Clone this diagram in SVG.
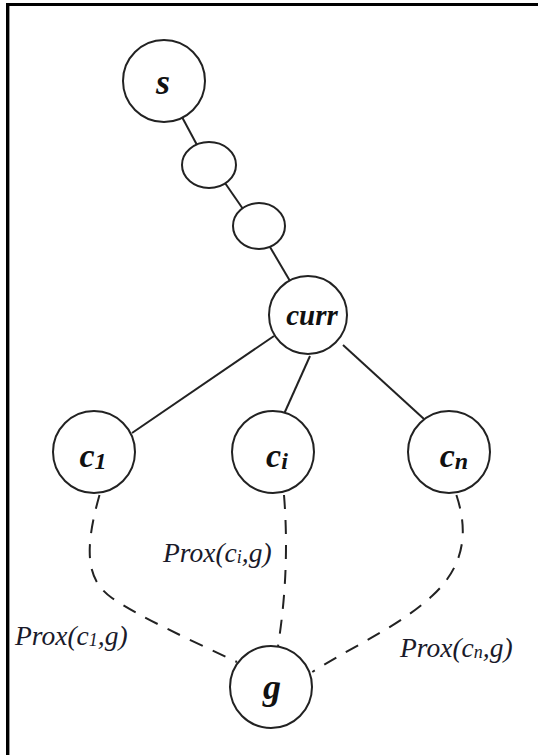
<svg xmlns="http://www.w3.org/2000/svg" width="538" height="755" viewBox="0 0 538 755">
<style>
.node{fill:#fff;stroke:#222;stroke-width:2}
.edge{stroke:#222;stroke-width:2;fill:none}
.dash{stroke:#222;stroke-width:2;fill:none;stroke-dasharray:14 11}
.lbl{font-style:italic;font-weight:bold;fill:#111}
.prox{font-style:italic;font-size:27.5px;fill:#1a1a2a}
</style>
<rect width="538" height="755" fill="#fff"/>
<g id="frame">
<line x1="6" y1="4.5" x2="538" y2="4.5" stroke="#000" stroke-width="3"/>
<line x1="7.5" y1="3" x2="7.5" y2="755" stroke="#000" stroke-width="3"/>
<line x1="9.5" y1="6" x2="9.5" y2="755" stroke="#999" stroke-width="1"/>
</g>
<g id="connectors">
<line class="edge" x1="182" y1="117" x2="197" y2="145"/>
<line class="edge" x1="225" y1="183" x2="243" y2="209"/>
<line class="edge" x1="270" y1="247" x2="290" y2="281"/>
<line class="edge" x1="274" y1="336" x2="132" y2="433"/>
<line class="edge" x1="310" y1="356" x2="284" y2="414"/>
<line class="edge" x1="343" y1="345" x2="424" y2="419"/>
<path class="dash" d="M99.5 495 C84 550 86 580 112 598 S190 640 237 662"/>
<path class="dash" d="M284 495 Q290 570 278 646"/>
<path class="dash" d="M456.4 495 C468 530 466 565 432 596 S355 645 312.3 672"/>
</g>
<g font-family="'Liberation Serif', 'Times New Roman', Tinos, Times, serif">
<g id="node-s">
<circle class="node" cx="164" cy="81" r="41"/>
<text class="lbl" x="163" y="94" font-size="36" text-anchor="middle">s</text>
</g>
<g id="node-a">
<ellipse class="node" cx="209" cy="165" rx="27" ry="23"/>
</g>
<g id="node-b">
<ellipse class="node" cx="259" cy="226" rx="26" ry="23"/>
</g>
<g id="node-curr">
<circle class="node" cx="308" cy="315" r="39"/>
<text class="lbl" x="312" y="325" font-size="29" text-anchor="middle">curr</text>
</g>
<g id="node-c1">
<circle class="node" cx="94" cy="452" r="41"/>
<text class="lbl" x="93" y="467" font-size="34" text-anchor="middle">c<tspan font-size="24" dy="2">1</tspan></text>
</g>
<g id="node-ci">
<circle class="node" cx="273" cy="452" r="41"/>
<text class="lbl" x="277" y="467" font-size="34" text-anchor="middle">c<tspan font-size="24" dy="2">i</tspan></text>
</g>
<g id="node-cn">
<circle class="node" cx="449" cy="452" r="41"/>
<text class="lbl" x="454" y="467" font-size="34" text-anchor="middle">c<tspan font-size="24" dy="2">n</tspan></text>
</g>
<g id="node-g">
<circle class="node" cx="271" cy="687" r="41"/>
<text class="lbl" x="272" y="699" font-size="36" text-anchor="middle">g</text>
</g>
<g id="labels">
<text class="prox" x="15" y="645">Prox(c<tspan font-size="18" dy="1">1</tspan><tspan dy="-1">,g)</tspan></text>
<text class="prox" x="163" y="562">Prox(c<tspan font-size="18" dy="1">i</tspan><tspan dy="-1">,g)</tspan></text>
<text class="prox" x="400" y="657">Prox(c<tspan font-size="18" dy="1">n</tspan><tspan dy="-1">,g)</tspan></text>
</g>
</g>
</svg>
